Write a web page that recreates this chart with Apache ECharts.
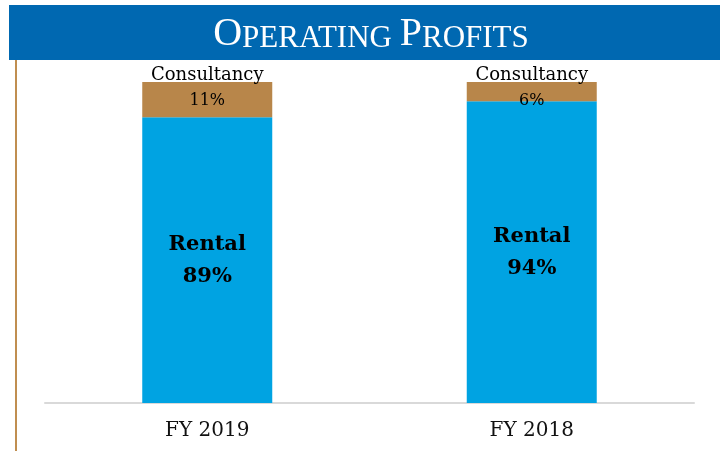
<!DOCTYPE html>
<html>
<head>
<meta charset="utf-8">
<script src="https://cdn.jsdelivr.net/npm/echarts@6/dist/echarts.min.js"></script>
<style>
    html, body { margin: 0; padding: 0; background: #fff; }
    #chart { width: 720px; height: 451px; }
</style>
</head>
<body>
<div id="chart"></div>
<script>
    // 数据
    const categories = ['FY 2019', 'FY 2018'];
    const rental = [89, 94];
    const consultancy = [11, 6];

    const myChart = echarts.init(document.getElementById('chart'));
    const serif = '"DejaVu Serif", "Liberation Serif", serif';

    let option = {
        animation: false,
        // 标题栏和左边竖线
        graphic: [
            {
                type: 'rect',
                shape: { x: 9, y: 5, width: 711, height: 55 },
                style: { fill: '#0068b1' }
            },
            {
                type: 'rect',
                shape: { x: 15, y: 60, width: 2, height: 391 },
                style: { fill: '#c08e50' }
            },
            {
                type: 'text',
                x: 371,
                y: 14,
                style: {
                    text: '{b|O}{s|PERATING }{b|P}{s|ROFITS}',
                    align: 'center',
                    rich: {
                        b: { fontFamily: '"Liberation Serif", serif', fontSize: 40, fill: '#fff', verticalAlign: 'bottom' },
                        s: { fontFamily: '"Liberation Serif", serif', fontSize: 31, fill: '#fff', verticalAlign: 'bottom' }
                    }
                }
            }
        ],
        grid: { left: 45, right: 26, top: 82, bottom: 48 },
        xAxis: {
            type: 'category',
            data: categories,
            axisLine: { lineStyle: { color: '#d9d9d9', width: 2 } },
            axisTick: { show: false },
            axisLabel: { fontFamily: serif, fontSize: 20, color: '#111', margin: 18 }
        },
        yAxis: {
            type: 'value',
            min: 0,
            max: 100,
            show: false,
            splitLine: { show: false }
        },
        series: [
            {
                name: 'Rental',
                type: 'bar',
                stack: 'total',
                barWidth: 130,
                data: rental,
                itemStyle: { color: '#00a3e2' },
                label: {
                    show: true,
                    position: 'inside',
                    formatter: p => 'Rental\n' + p.value + '%',
                    fontFamily: serif,
                    fontWeight: 'bold',
                    fontSize: 21,
                    lineHeight: 32,
                    color: '#000'
                }
            },
            {
                name: 'Consultancy',
                type: 'bar',
                stack: 'total',
                barWidth: 130,
                data: consultancy,
                itemStyle: { color: '#b8864a' },
                label: {
                    show: true,
                    position: 'top',
                    distance: -31,
                    formatter: p => '{a|Consultancy}\n{b|' + p.value + '%}',
                    rich: {
                        a: { fontFamily: serif, fontSize: 18, color: '#000', lineHeight: 25 },
                        b: { fontFamily: serif, fontSize: 16, color: '#000', lineHeight: 25 }
                    }
                }
            }
        ]
    };

    myChart.setOption(option);
</script>
</body>
</html>
